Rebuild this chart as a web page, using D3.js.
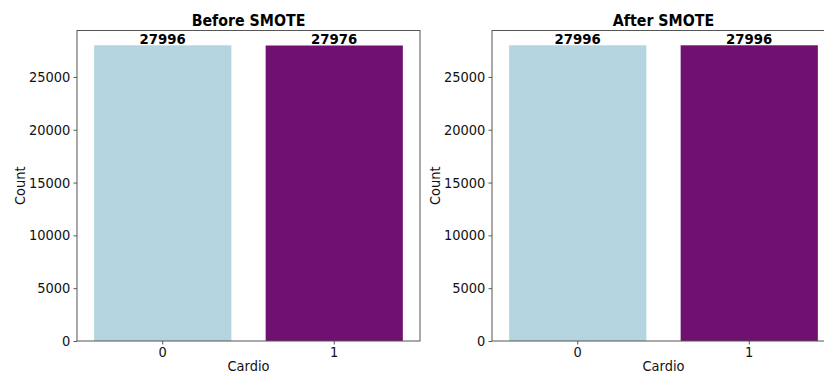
<!DOCTYPE html>
<html>
<head>
<meta charset="utf-8">
<script src="https://cdn.jsdelivr.net/npm/d3@7"></script>
<style>
  html, body { margin: 0; padding: 0; background: #fff; }
  svg { display: block; font-family: "DejaVu Sans", sans-serif; }
</style>
</head>
<body>
<svg id="chart" width="824" height="374"></svg>
<script>
const categories = ["0", "1"];
const beforeCounts = [27996, 27976];
const afterCounts = [27996, 27996];
const yTickValues = [0, 5000, 10000, 15000, 20000, 25000];
const colors = ["#b4d4df", "#701070"];
const panelTitles = ["Before SMOTE", "After SMOTE"];
const xLabel = "Cardio";
const yLabel = "Count";

const svg = d3.select("#chart");
const axTop = 30.5, axBottom = 341, axW = 343;
const SX = 0.95; // slight horizontal squeeze of glyphs seen in reference
const panels = [
  { x0: 77, title: panelTitles[0], values: beforeCounts },
  { x0: 492, title: panelTitles[1], values: afterCounts }
];

function squeeze(sel, sx) {
  sel.each(function () {
    const t = d3.select(this);
    const x = +t.attr("x") || 0, y = +t.attr("y") || 0;
    const prev = t.attr("transform") || "";
    t.attr("x", 0).attr("y", 0)
     .attr("transform", `${prev} translate(${x},${y}) scale(${sx},1)`);
  });
}

panels.forEach(p => {
  const g = svg.append("g");
  const x = d3.scaleBand().domain(categories).range([p.x0, p.x0 + axW])
    .paddingInner(0.2).paddingOuter(0.1);
  const y = d3.scaleLinear().domain([0, d3.max(p.values) * 1.05]).range([axBottom, axTop]);

  // bars
  g.selectAll("rect.bar").data(categories).enter().append("rect")
    .attr("class", "bar")
    .attr("x", d => x(d))
    .attr("width", x.bandwidth())
    .attr("y", (d, i) => y(p.values[i]))
    .attr("height", (d, i) => axBottom - y(p.values[i]))
    .attr("fill", (d, i) => colors[i]);

  // bar labels
  g.selectAll("text.val").data(categories).enter().append("text")
    .attr("class", "val")
    .attr("x", d => x(d) + x.bandwidth() / 2)
    .attr("y", (d, i) => y(p.values[i]) - 1.6)
    .attr("text-anchor", "middle")
    .attr("font-size", "13.3px")
    .attr("font-weight", "bold")
    .attr("fill", "#000")
    .text((d, i) => p.values[i]);

  // y axis
  const yAxis = d3.axisLeft(y).tickValues(yTickValues).tickSize(3.5).tickPadding(3.2)
    .tickFormat(d3.format("d"));
  const ya = g.append("g").attr("transform", `translate(${p.x0},0)`).call(yAxis);
  ya.select(".domain").remove();
  ya.selectAll("line").attr("stroke", "#444").attr("stroke-width", 0.9);
  ya.selectAll("text").attr("font-size", "13.7px").attr("fill", "#111")
    .attr("font-family", "DejaVu Sans").attr("dy", null)
    .attr("dominant-baseline", "central");
  squeeze(ya.selectAll("text"), SX);

  // x axis
  const xAxis = d3.axisBottom(x).tickSize(3.5).tickPadding(3.5);
  const xa = g.append("g").attr("transform", `translate(0,${axBottom})`).call(xAxis);
  xa.select(".domain").remove();
  xa.selectAll("line").attr("stroke", "#444").attr("stroke-width", 0.9);
  xa.selectAll("text").attr("font-size", "13.7px").attr("fill", "#111")
    .attr("font-family", "DejaVu Sans").attr("dy", null).attr("y", 16.3);
  squeeze(xa.selectAll("text"), SX);

  // frame
  g.append("rect")
    .attr("x", p.x0).attr("y", axTop)
    .attr("width", axW).attr("height", axBottom - axTop)
    .attr("fill", "none").attr("stroke", "#555").attr("stroke-width", 1);

  // title
  const tt = g.append("text")
    .attr("x", p.x0 + axW / 2).attr("y", 25.7)
    .attr("text-anchor", "middle")
    .attr("font-size", "15.6px").attr("font-weight", "bold").attr("fill", "#000")
    .text(p.title);
  squeeze(tt, 0.91);

  // x label
  const xl = g.append("text")
    .attr("x", p.x0 + axW / 2).attr("y", 370.6)
    .attr("text-anchor", "middle")
    .attr("font-size", "13.7px").attr("fill", "#111")
    .text(xLabel);
  squeeze(xl, SX);

  // y label
  g.append("text")
    .attr("transform", `translate(${p.x0 - 52},${(axTop + axBottom) / 2}) rotate(-90) scale(${SX},1)`)
    .attr("text-anchor", "middle")
    .attr("font-size", "13.7px").attr("fill", "#111")
    .text(yLabel);
});
</script>
</body>
</html>
